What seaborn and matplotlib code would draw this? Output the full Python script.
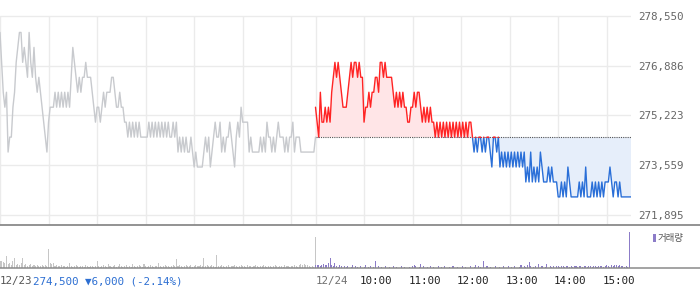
import matplotlib
matplotlib.use('Agg')
import matplotlib.pyplot as plt
import seaborn as sns
import numpy as np
from matplotlib.patches import Rectangle
from matplotlib.lines import Line2D

# ---------------- data ----------------
day1_minutes = list(range(0, 391, 2))      # 12/23 09:00 .. 15:30
day2_minutes = list(range(390, 781, 2))    # 12/24 09:00 .. 15:30

day1_price = [
    278000, 277000, 276000, 275500, 276000, 274000, 274500, 274500, 275500, 276000,
    277000, 277500, 278000, 278000, 277000, 277500, 277000, 276500, 278000, 277000,
    276500, 277500, 276500, 276000, 276500, 276000, 275500, 275000, 274500, 274000,
    275000, 275500, 275500, 275500, 276000, 275500, 276000, 275500, 276000, 275500,
    276000, 275500, 276000, 275500, 276500, 277500, 277000, 276500, 276000, 276500,
    276000, 276500, 276500, 277000, 276500, 276500, 276500, 276000, 275500, 275000,
    275500, 275500, 275000, 275500, 276000, 275500, 276000, 276000, 276000, 276500,
    276500, 276000, 275500, 275500, 276000, 275500, 275500, 275000, 275000, 274500,
    275000, 274500, 275000, 274500, 275000, 274500, 275000, 274500, 274500, 274500,
    274500, 274500, 275000, 274500, 275000, 274500, 275000, 274500, 275000, 274500,
    275000, 274500, 275000, 274500, 275000, 274500, 274500, 275000, 274500, 275000,
    274000, 274500, 274000, 274500, 274000, 274500, 274000, 274000, 274500, 274000,
    273500, 274000, 273500, 273500, 273500, 273500, 274000, 274500, 274000, 274500,
    273500, 274000, 274500, 275000, 274500, 274500, 275000, 274000, 274500, 274000,
    274500, 274500, 275000, 274500, 274000, 273500, 274500, 275000, 274500, 275500,
    275000, 275000, 275000, 275000, 274000, 274500, 274000, 274000, 274000, 274000,
    274000, 274500, 274000, 274500, 274000, 275000, 274500, 274500, 274000, 274500,
    274000, 274500, 275000, 274500, 274500, 274500, 274000, 274500, 274000, 274500,
    274500, 275000, 274000, 274500, 274500, 274500, 274000, 274000, 274000, 274000,
    274000, 274000, 274000, 274000, 274000, 274500,
]

day2_price = [
    275500, 275000, 274500, 276000, 275000, 275000, 275500, 275000, 275500, 275000,
    276000, 276500, 277000, 276500, 277000, 276500, 276000, 275500, 275500, 275500,
    276000, 276500, 277000, 276500, 277000, 277000, 276500, 277000, 276500, 276500,
    275000, 275500, 275500, 276000, 275500, 276000, 276000, 276500, 276500, 276000,
    277000, 277000, 276500, 277000, 276500, 276500, 276500, 276500, 276000, 275500,
    276000, 275500, 276000, 275500, 276000, 275500, 275500, 275000, 275000, 275500,
    275500, 276000, 275500, 276000, 276000, 275500, 275000, 275500, 275000, 275500,
    275000, 275500, 275000, 275000, 274500, 275000, 274500, 275000, 274500, 275000,
    274500, 275000, 274500, 275000, 274500, 275000, 274500, 275000, 274500, 275000,
    274500, 275000, 274500, 275000, 274500, 275000, 275000, 274500, 274000, 274500,
    274000, 274500, 274500, 274000, 274500, 274000, 274500, 274500, 274000, 273500,
    274500, 274500, 274000, 274500, 273500, 274000, 273500, 274000, 273500, 274000,
    273500, 274000, 273500, 274000, 273500, 274000, 273500, 274000, 273500, 274000,
    273000, 273500, 273000, 274000, 273000, 273500, 273000, 273500, 273000, 274000,
    273500, 273000, 273000, 273000, 273500, 273000, 273500, 273000, 273000, 273000,
    272500, 272500, 273000, 272500, 273000, 272500, 273500, 273000, 272500, 272500,
    272500, 272500, 272500, 273000, 272500, 273000, 272500, 273500, 272500, 272500,
    272500, 273000, 272500, 273000, 272500, 273000, 272500, 273000, 272500, 273000,
    273000, 273000, 273500, 273000, 272500, 273000, 273000, 272500, 273000, 272500,
    272500, 272500, 272500, 272500, 272500, 272500,
]

day1_volume = [
    7, 7, 6, 5, 12, 4, 5, 3, 7, 10,
    3, 4, 3, 5, 10, 3, 4, 2, 3, 4,
    2, 3, 2, 3, 2, 2, 3, 2, 3, 2,
    19, 5, 4, 5, 2, 3, 2, 2, 3, 2,
    2, 1, 2, 5, 2, 1, 2, 3, 2, 1,
    2, 2, 1, 3, 2, 1, 2, 2, 1, 2,
    7, 2, 1, 2, 3, 2, 1, 4, 2, 1,
    2, 3, 1, 2, 4, 2, 1, 2, 3, 1,
    2, 1, 4, 2, 1, 2, 3, 2, 1, 4,
    2, 1, 2, 3, 2, 1, 2, 2, 5, 2,
    1, 2, 3, 2, 2, 1, 2, 3, 2, 9,
    2, 3, 2, 1, 2, 3, 2, 2, 3, 1,
    2, 3, 2, 2, 3, 2, 10, 2, 3, 2,
    2, 3, 2, 1, 13, 2, 2, 3, 2, 1,
    2, 3, 1, 2, 2, 3, 2, 1, 2, 3,
    2, 2, 1, 3, 2, 2, 1, 2, 3, 2,
    1, 2, 2, 3, 2, 1, 2, 2, 1, 2,
    3, 2, 1, 2, 2, 1, 3, 2, 2, 1,
    2, 2, 3, 2, 1, 3, 4, 3, 4, 3,
    3, 2, 1, 2, 1, 32,
]

day2_volume = [
    3, 3, 3, 2, 3, 4, 3, 3, 5, 10,
    3, 2, 5, 2, 1, 3, 2, 0, 2, 1,
    2, 0, 1, 3, 0, 2, 1, 0, 2, 0,
    1, 3, 0, 1, 2, 0, 1, 7, 0, 2,
    0, 1, 0, 2, 0, 0, 1, 0, 2, 0,
    1, 0, 0, 2, 0, 1, 0, 0, 1, 0,
    2, 3, 2, 0, 1, 4, 0, 2, 0, 1,
    0, 2, 0, 1, 0, 0, 2, 0, 1, 0,
    2, 0, 0, 1, 0, 2, 0, 0, 1, 0,
    0, 2, 0, 1, 0, 0, 2, 0, 1, 3,
    0, 2, 1, 0, 7, 0, 2, 0, 1, 0,
    0, 2, 0, 0, 1, 0, 2, 0, 0, 2,
    0, 1, 0, 2, 0, 0, 1, 3, 0, 2,
    1, 3, 6, 2, 0, 1, 2, 0, 4, 0,
    2, 0, 1, 4, 0, 2, 1, 2, 0, 2,
    2, 1, 2, 2, 1, 2, 2, 1, 2, 1,
    2, 2, 1, 2, 2, 1, 2, 2, 1, 2,
    2, 1, 2, 2, 1, 2, 2, 2, 1, 2,
    3, 2, 1, 3, 2, 3, 3, 2, 3, 2,
    2, 1, 2, 1, 37, 0,
]

base_price = 274500
y_ticks = [271895, 273559, 275223, 276886, 278550]
grid_minutes = [0, 60, 120, 180, 240, 300, 360, 390, 450, 510, 570, 630, 690, 750]
axis_ticks = [0, 390, 450, 510, 570, 630, 690, 750]
hour_ticks = [390, 450, 510, 570, 630, 690, 750]
hour_labels = ['12/24', '10:00', '11:00', '12:00', '13:00', '14:00', '15:00']
info_date = '12/23'
info_text = '274,500 \u25bc6,000 (-2.14%)'
legend_label = '거래량'

# ---------------- style ----------------
sns.set_theme(style='white')
plt.rcParams['font.family'] = ['DejaVu Sans Mono', 'DejaVu Sans']

W, H = 700, 289
fig = plt.figure(figsize=(W / 100, H / 100), dpi=100)
fig.patch.set_facecolor('white')

ax = fig.add_axes([0, 1 - 225 / H, 631 / W, 225 / H])
axv = fig.add_axes([0, 1 - 268 / H, 631 / W, 43 / H])

ylo, yhi = 271561, 279085
ax.set_xlim(0, 780)
ax.set_ylim(ylo, yhi)
axv.set_xlim(0, 780)

for a in (ax, axv):
    for s in a.spines.values():
        s.set_visible(False)
    a.set_facecolor('none')

grid_c = '#ebebeb'
# horizontal gridlines
for v in y_ticks:
    ax.axhline(v, color=grid_c, lw=1, zorder=0)
# vertical gridlines (from top grid value downward)
ax.vlines(grid_minutes, ylo, y_ticks[-1], colors=grid_c, lw=1, zorder=0)

# fills for day 2
t2 = np.array(day2_minutes)
p2 = np.array(day2_price)
ax.fill_between(t2, p2, base_price, where=p2 >= base_price, interpolate=True,
                color='#ffe5e7', lw=0, zorder=1)
ax.fill_between(t2, p2, base_price, where=p2 <= base_price, interpolate=True,
                color='#e6eefa', lw=0, zorder=1)

# baseline
ax.hlines(base_price, 390, 780, colors='#555555', linestyles=(0, (1, 1)), lw=0.8, zorder=2)

# day 1 line
sns.lineplot(x=day1_minutes, y=day1_price, ax=ax, color='#c8cace', lw=1.0,
             errorbar=None, zorder=3)

# day 2 line: blue below baseline, red above
sns.lineplot(x=day2_minutes, y=day2_price, ax=ax, color='#2a6fd8', lw=1.0,
             errorbar=None, zorder=3)
blue_line = ax.lines[-1]
clip_b = Rectangle((0, ylo), 780, base_price - ylo, transform=ax.transData)
blue_line.set_clip_path(clip_b)

sns.lineplot(x=day2_minutes, y=day2_price, ax=ax, color='#ff2424', lw=1.0,
             errorbar=None, zorder=4)
red_line = ax.lines[-1]
clip_r = Rectangle((0, base_price - 25), 780, yhi - base_price + 25, transform=ax.transData)
red_line.set_clip_path(clip_r)

# y axis labels on the right
ax.yaxis.tick_right()
ax.set_yticks(y_ticks)
ax.set_yticklabels([f'{v:,}' for v in y_ticks])
ax.tick_params(axis='y', length=0, pad=5.5, labelsize=7.8, labelcolor='#666666')
ax.set_xticks([])
ax.set_xlabel('')
ax.set_ylabel('')

# volume
vmax = max(max(day1_volume), max(day2_volume))
axv.bar(day1_minutes, day1_volume, width=1.3, color='#c6c6c6', lw=0)
axv.bar(day2_minutes, day2_volume, width=1.3, color='#8c7cc8', lw=0)
axv.set_ylim(0, vmax * 1.185)
axv.set_yticks([])
axv.set_xticks(axis_ticks)
axv.set_xticklabels([])
axv.tick_params(axis='x', direction='out', length=3.6, width=1, color='#555555', pad=0)
axv.set_xlabel('')

# separator lines spanning the full width
fig.add_artist(Line2D([0, 1], [1 - 225.3 / H] * 2, transform=fig.transFigure,
                      color='#8a8a8a', lw=1.3))
fig.add_artist(Line2D([0, 1], [1 - 268 / H] * 2, transform=fig.transFigure,
                      color='#8a8a8a', lw=1.1))

# axis labels
fs = 7.8
axv.annotate(info_date, xy=(0, 0), xycoords=('data', 'axes fraction'),
             xytext=(0, -6), textcoords='offset points', ha='left', va='top',
             fontsize=fs, color='#555555')
axv.annotate(info_text, xy=(0, 0), xycoords=('data', 'axes fraction'),
             xytext=(23.6, -6), textcoords='offset points', ha='left', va='top',
             fontsize=fs, color='#2d6fd2')
for t, lab in zip(hour_ticks, hour_labels):
    dx = 0 if '/' in lab else -2.9
    col = '#707070' if '/' in lab else '#222222'
    axv.annotate(lab, xy=(t, 0), xycoords=('data', 'axes fraction'),
                 xytext=(dx, -6), textcoords='offset points', ha='left', va='top',
                 fontsize=fs, color=col)

# legend
fig.add_artist(Rectangle((652.7 / W, 1 - 241.7 / H), 2.8 / W, 7.4 / H,
                         transform=fig.transFigure, color='#8c7cc8', lw=0))
fig.text(657.5 / W, 1 - 238 / H, legend_label, ha='left', va='center',
         fontsize=6.8, color='#555555', family=['Noto Sans CJK KR', 'DejaVu Sans'])

fig.savefig('out.png', dpi=100)
